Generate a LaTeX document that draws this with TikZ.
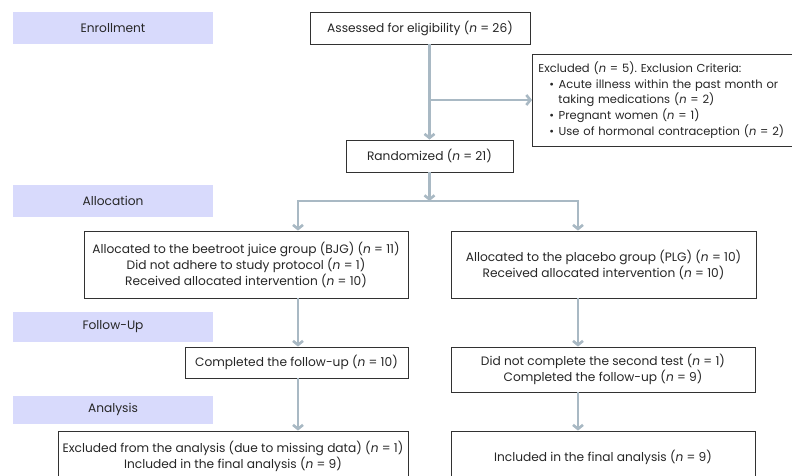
\documentclass[tikz,border=0pt]{standalone}
\usepackage{fontspec}
\setmainfont{Poppins}
\usetikzlibrary{positioning,arrows.meta}
\definecolor{lavfill}{RGB}{216,218,252}
\definecolor{arrgray}{RGB}{169,185,196}
\definecolor{boxline}{RGB}{50,50,50}
\newcommand{\Nn}{\textit{n}}
\frenchspacing

\tikzset{
  phase/.style={fill=lavfill, minimum width=200pt, inner sep=0pt},
  fbox/.style={draw=boxline, line width=0.9pt, align=center, inner sep=0pt},
  arr/.style={draw=arrgray, line width=2.6pt, -{Straight Barb[length=4pt,width=10pt]}}
}

\begin{document}
\begin{tikzpicture}[x=1pt,y=-1pt,font=\fontsize{12.2}{16}\selectfont,text=black!85]
\useasboundingbox (0,0) rectangle (792,475);
\clip (0,0) rectangle (792,475);

% phase labels
\node[phase, minimum height=32pt] (enroll) at (113,28)    {Enrollment};
\node[phase, minimum height=32pt] (alloc)  at (113,201)   {Allocation};
\node[phase, minimum height=30pt] (follow) at (113,327)   {Follow-Up};
\node[phase, minimum height=28pt] (analy)  at (113,409.5) {Analysis};

% flow boxes
\node[fbox, minimum width=220pt, minimum height=32pt] (assess) at (420,28) {Assessed for eligibility (\Nn{} = 26)};
\node[fbox, anchor=west, align=left, minimum width=270pt, minimum height=92pt,
      font=\fontsize{11.5}{15.8}\selectfont, inner xsep=4pt, text width=258pt] (excl) at (532,100)
  {Excluded (\Nn{} = 5). Exclusion Criteria:\\
   \hspace*{11pt}\textbullet\hspace{4.5pt}Acute illness within the past month or\\
   \hspace*{20pt}taking medications (\Nn{} = 2)\\
   \hspace*{11pt}\textbullet\hspace{4.5pt}Pregnant women (\Nn{} = 1)\\
   \hspace*{11pt}\textbullet\hspace{4.5pt}Use of hormonal contraception (\Nn{} = 2)};
\node[fbox, minimum width=167pt, minimum height=32pt] (rand) at (429.5,156) {Randomized (\Nn{} = 21)};

\node[fbox, minimum width=324pt, minimum height=67pt] (bjg) at (246,264.5)
  {Allocated to the beetroot juice group (BJG) (\Nn{} = 11)\\
   Did not adhere to study protocol (\Nn{} = 1)\\
   Received allocated intervention (\Nn{} = 10)};
\node[fbox, minimum width=305pt, minimum height=67pt] (plg) at (603.5,264.5)
  {Allocated to the placebo group (PLG) (\Nn{} = 10)\\
   Received allocated intervention (\Nn{} = 10)};

\node[fbox, minimum width=223pt, minimum height=31pt] (compL) at (296.5,362.5) {Completed the follow-up (\Nn{} = 10)};
\node[fbox, minimum width=304pt, minimum height=45pt] (compR) at (603,369.5)
  {Did not complete the second test (\Nn{} = 1)\\
   Completed the follow-up (\Nn{} = 9)};

\node[fbox, minimum width=350pt, minimum height=50pt] (anaL) at (233,456)
  {Excluded from the analysis (due to missing data) (\Nn{} = 1)\\
   Included in the final analysis (\Nn{} = 9)};
\node[fbox, minimum width=304pt, minimum height=52pt] (anaR) at (603,457)
  {Included in the final analysis (\Nn{} = 9)};

% columns of the arrows
\coordinate (colL) at (298,0);
\coordinate (colR) at (578,0);
\coordinate (split) at (429.5,201);

\draw[arr] (rand.north |- assess.south) -- (rand.north);
\draw[arr] (rand.north |- excl.west) -- (excl.west);
\draw[arr] (rand.south) -- (split);
\draw[arr] (split) -| (colL |- bjg.north);
\draw[arr] (split) -| (colR |- plg.north);
\draw[arr] (colL |- bjg.south) -- (colL |- compL.north);
\draw[arr] (colR |- plg.south) -- (colR |- compR.north);
\draw[arr] (colL |- compL.south) -- (colL |- anaL.north);
\draw[arr] (colR |- compR.south) -- (colR |- anaR.north);
\end{tikzpicture}
\end{document}
